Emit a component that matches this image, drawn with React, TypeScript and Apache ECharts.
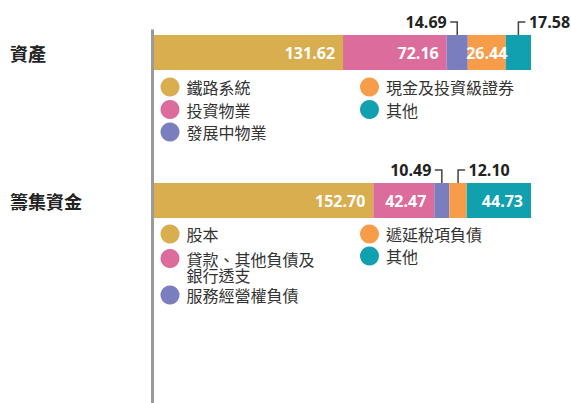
import React, { useEffect, useRef } from "react";
import * as echarts from "echarts";

const categories = ["資產", "籌集資金"];
const assetNames = ["鐵路系統", "投資物業", "發展中物業", "現金及投資級證券", "其他"];
const assetValues = [131.62, 72.16, 14.69, 26.44, 17.58];
const fundNames = ["股本", "貸款、其他負債及銀行透支", "服務經營權負債", "遞延稅項負債", "其他"];
const fundValues = [152.7, 42.47, 10.49, 12.1, 44.73];
const colors = ["#D9AE4F", "#DB6C9B", "#7B7EBE", "#F79D4A", "#11A0B0"];
// segments whose value label sits above the bar with a bracket: [categoryIndex, segmentIndex, side]
const outsideLabels: [number, number, "left" | "right"][] = [
  [0, 2, "left"],
  [0, 4, "right"],
  [1, 2, "left"],
  [1, 3, "right"],
];
// segments whose label is centred instead of right-aligned
const centredLabels: [number, number][] = [[0, 3]];

const CJK = "'Noto Sans CJK TC', 'Noto Sans', sans-serif";
const NUM = "'Open Sans', 'Noto Sans', sans-serif";

export default function App() {
  const ref = useRef<HTMLDivElement>(null);
  useEffect(() => {
    if (!ref.current) return;
    const chart = echarts.init(ref.current, undefined, { renderer: "svg" });
    const groups = [
      { names: assetNames, values: assetValues },
      { names: fundNames, values: fundValues },
    ];
    const isOutside = (c: number, i: number) => outsideLabels.some((o) => o[0] === c && o[1] === i);
    const isCentred = (c: number, i: number) => centredLabels.some((o) => o[0] === c && o[1] === i);
    const series: any[] = [];
    groups.forEach((g, c) => {
      g.names.forEach((name, i) => {
        const data = categories.map((_, k) =>
          k === c
            ? {
                value: g.values[i],
                label: {
                  show: !isOutside(c, i),
                  position: isCentred(c, i) ? "inside" : "insideRight",
                },
              }
            : "-"
        );
        series.push({
          name,
          type: "bar",
          stack: "total",
          barWidth: 35,
          itemStyle: { color: colors[i] },
          label: {
            show: true,
            position: "insideRight",
            distance: 8,
            color: "#fff",
            fontFamily: NUM,
            fontWeight: "bold",
            fontSize: 16,
            formatter: (p: any) => Number(p.value).toFixed(2),
          },
          emphasis: { disabled: true },
          data,
        });
      });
    });
    const total = assetValues.reduce((a, b) => a + b, 0);
    const legendBase = {
      orient: "vertical",
      icon: "circle",
      itemWidth: 19,
      itemHeight: 19,
      itemGap: 3.5,
      padding: 0,
      selectedMode: false,
      textStyle: { fontSize: 16, color: "#333", fontFamily: CJK, padding: [0, 0, 0, 2] },
    };
    chart.setOption({
      animation: false,
      color: colors,
      grid: { left: 154, right: 40, top: 52.5, bottom: 202.5 },
      xAxis: {
        type: "value",
        min: 0,
        max: total,
        show: false,
      },
      yAxis: {
        type: "category",
        data: categories,
        inverse: true,
        boundaryGap: false,
        axisLine: { show: false },
        axisTick: { show: false },
        axisLabel: {
          align: "left",
          margin: 144,
          fontSize: 18,
          fontWeight: "bold",
          color: "#222",
          fontFamily: CJK,
        },
      },
      legend: [
        { ...legendBase, left: 160.5, top: 77.5, data: assetNames.slice(0, 3) },
        { ...legendBase, left: 360, top: 77.5, data: assetNames.slice(3) },
        { ...legendBase, left: 160.5, top: 224.5, data: [fundNames[0]] },
        {
          ...legendBase,
          left: 160.5,
          top: 234.5,
          data: [fundNames[1]],
          formatter: () => " \n貸款、其他負債及\n銀行透支",
          textStyle: { ...legendBase.textStyle, lineHeight: 16 },
        },
        { ...legendBase, left: 160.5, top: 285.5, data: [fundNames[2]] },
        { ...legendBase, left: 360, top: 224.5, itemGap: 3, data: fundNames.slice(3) },
      ],
      series,
    });

    const graphics: any[] = [
      {
        type: "line",
        shape: { x1: 152.5, y1: 29.5, x2: 152.5, y2: 403 },
        style: { stroke: "#9a9a9a", lineWidth: 3 },
        silent: true,
      },
    ];
    outsideLabels.forEach(([c, i, side]) => {
      const vals = groups[c].values;
      const start = vals.slice(0, i).reduce((a, b) => a + b, 0);
      const mid = chart.convertToPixel({ gridIndex: 0 }, [start + vals[i] / 2, c]) as number[];
      const x = mid[0];
      const top = mid[1] - 17.5;
      const yH = top - 13;
      const dir = side === "left" ? -1 : 1;
      graphics.push({
        type: "polyline",
        shape: { points: [[x, top], [x, yH], [x + dir * 7, yH]] },
        style: { stroke: "#444", lineWidth: 1.5, fill: "none" },
        silent: true,
      });
      graphics.push({
        type: "text",
        x: x + dir * 10.5,
        y: yH,
        style: {
          text: vals[i].toFixed(2),
          align: side === "left" ? "right" : "left",
          verticalAlign: "middle",
          fill: "#222",
          fontFamily: NUM,
          fontWeight: "bold",
          fontSize: 16,
        },
        silent: true,
      });
    });
    chart.setOption({ graphic: graphics });
    return () => chart.dispose();
  }, []);
  return (
    <div
      ref={ref}
      style={{ position: "fixed", left: 0, top: 0, width: 571, height: 403, background: "#fff" }}
    />
  );
}
